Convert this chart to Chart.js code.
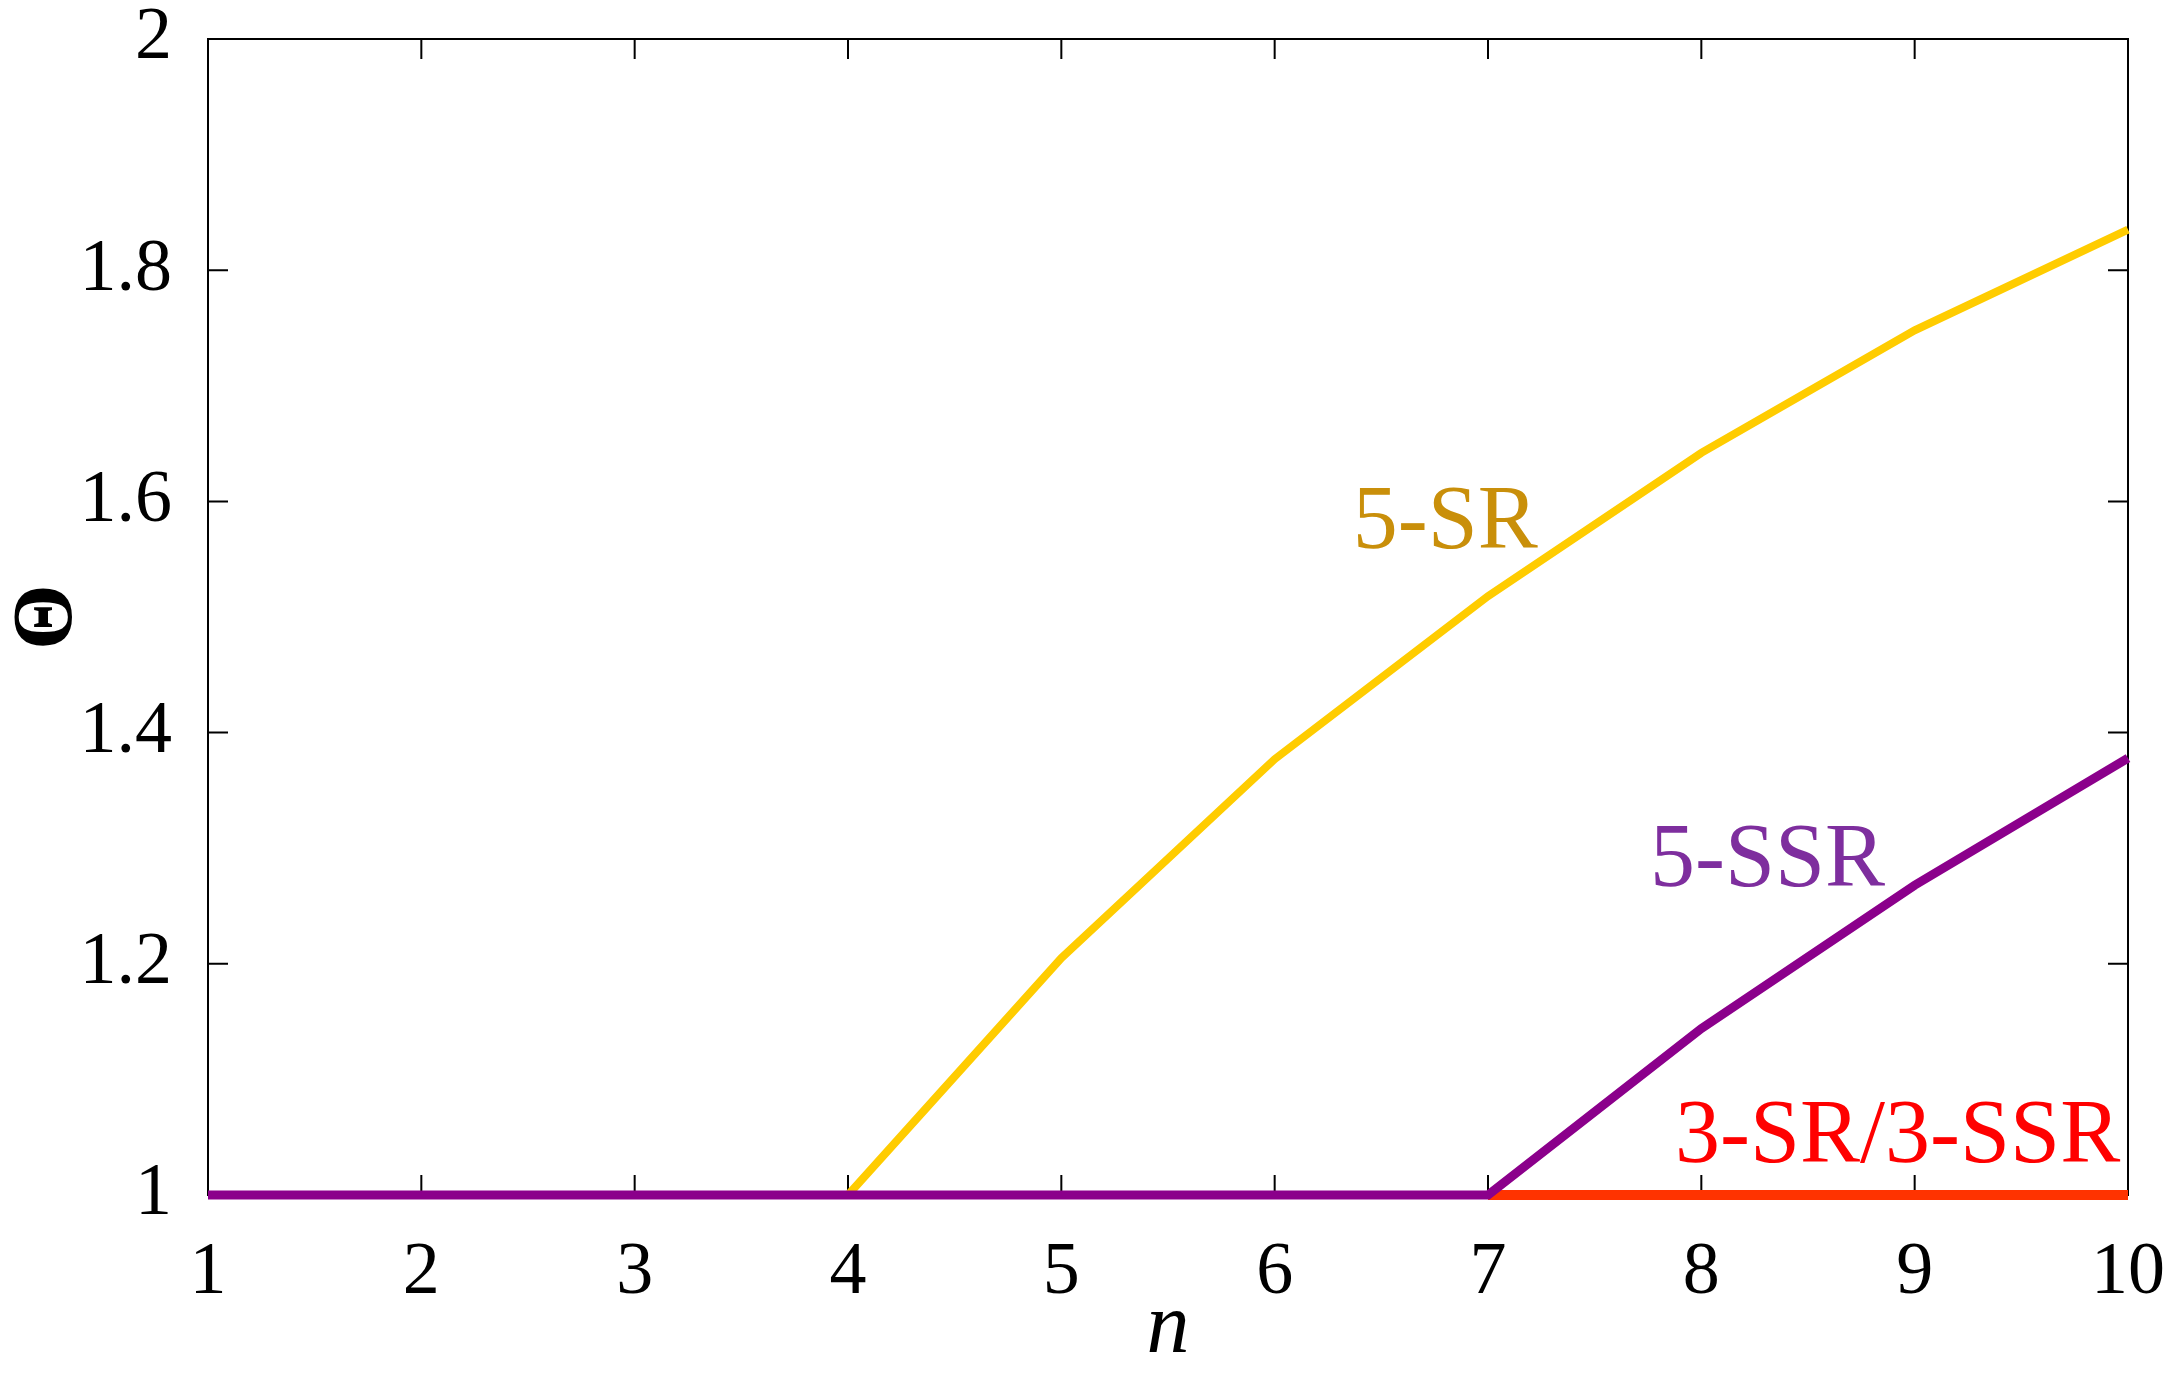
<!DOCTYPE html>
<html>
<head>
<meta charset="utf-8">
<script src="https://cdn.jsdelivr.net/npm/chart.js@4/dist/chart.umd.min.js"></script>
<style>
html, body { margin: 0; padding: 0; background: #fff; }
#wrap { width: 2176px; height: 1373px; }
</style>
</head>
<body>
<div id="wrap"><canvas id="myChart"></canvas></div>
<script>
// values
var nValues = [1, 2, 3, 4, 5, 6, 7, 8, 9, 10];
var sr5 = [null, null, null, 1, 1.205, 1.377, 1.518, 1.642, 1.748, 1.835];
var ssr5 = [1, 1, 1, 1, 1, 1, 1, 1.144, 1.268, 1.378];
var sr3 = [null, null, null, null, null, null, 1, 1, 1, 1];
var xTicks = [1, 2, 3, 4, 5, 6, 7, 8, 9, 10];
var yTicks = [1, 1.2, 1.4, 1.6, 1.8, 2];
var curveNames = ['5-SR', '5-SSR', '3-SR/3-SSR'];

function points(ys) {
    var out = [];
    for (var i = 0; i < nValues.length; i++) {
        if (ys[i] !== null) out.push({x: nValues[i], y: ys[i]});
    }
    return out;
}

var serif = '"Liberation Serif", "Times New Roman", serif';

// labels written next to the curves, placed in data units
var curveLabels = [
    {text: curveNames[0], x: 6.80, y: 1.580, color: '#C98F0A'},
    {text: curveNames[1], x: 8.31, y: 1.288, color: '#7E2E9E'},
    {text: curveNames[2], x: 8.92, y: 1.049, color: '#FF0000'}
];

// box round the plot with inward ticks on all four sides
var frameTicks = {
    id: 'frameTicks',
    beforeDatasetsDraw: function(chart) {
        var ctx = chart.ctx, a = chart.chartArea;
        var xs = chart.scales.x, ys = chart.scales.y;
        var len = 20;
        ctx.save();
        ctx.strokeStyle = '#000';
        ctx.lineWidth = 2;
        ctx.strokeRect(a.left, a.top, a.right - a.left, a.bottom - a.top);
        ctx.beginPath();
        xTicks.forEach(function(v) {
            var px = xs.getPixelForValue(v);
            ctx.moveTo(px, a.bottom); ctx.lineTo(px, a.bottom - len);
            ctx.moveTo(px, a.top); ctx.lineTo(px, a.top + len);
        });
        yTicks.forEach(function(v) {
            var py = ys.getPixelForValue(v);
            ctx.moveTo(a.left, py); ctx.lineTo(a.left + len, py);
            ctx.moveTo(a.right, py); ctx.lineTo(a.right - len, py);
        });
        ctx.stroke();
        ctx.restore();
    },
    afterDatasetsDraw: function(chart) {
        var ctx = chart.ctx;
        var xs = chart.scales.x, ys = chart.scales.y;
        ctx.save();
        ctx.font = '90px ' + serif;
        ctx.textAlign = 'center';
        ctx.textBaseline = 'middle';
        curveLabels.forEach(function(l) {
            ctx.fillStyle = l.color;
            ctx.fillText(l.text, xs.getPixelForValue(l.x), ys.getPixelForValue(l.y));
        });
        ctx.restore();
    }
};

function noOverflow(s) {
    s.paddingTop = 0;
    s.paddingBottom = 0;
    s.paddingLeft = 0;
    s.paddingRight = 0;
}

var ctx = document.getElementById('myChart').getContext('2d');
var myChart = new Chart(ctx, {
    type: 'line',
    data: {
        datasets: [{
            label: curveNames[1],
            data: points(ssr5),
            borderColor: '#8B008B',
            borderWidth: 9,
            order: 1
        }, {
            label: curveNames[2],
            data: points(sr3),
            borderColor: '#FF3300',
            borderWidth: 10,
            order: 2
        }, {
            label: curveNames[0],
            data: points(sr5),
            borderColor: '#FFCC00',
            borderWidth: 8,
            order: 3
        }]
    },
    options: {
        responsive: true,
        maintainAspectRatio: false,
        devicePixelRatio: 1,
        animation: false,
        events: [],
        layout: { padding: { top: 39, right: 48, left: 0, bottom: 0 } },
        elements: {
            point: { radius: 0 },
            line: { tension: 0, fill: false, borderCapStyle: 'butt' }
        },
        datasets: { line: { clip: false } },
        plugins: { legend: { display: false }, tooltip: { enabled: false } },
        scales: {
            x: {
                type: 'linear',
                min: 1,
                max: 10,
                afterFit: function(s) { s.height = 178; noOverflow(s); },
                afterBuildTicks: function(s) { s.ticks = xTicks.map(function(v) { return {value: v}; }); },
                grid: { display: false },
                border: { display: false },
                ticks: {
                    autoSkip: false,
                    maxRotation: 0,
                    padding: 34,
                    color: '#000',
                    font: { family: serif, size: 74, lineHeight: 1 }
                },
                title: {
                    display: true,
                    text: 'n',
                    color: '#000',
                    padding: { top: 0, bottom: 1 },
                    font: { family: serif, size: 86, style: 'italic', lineHeight: 1 }
                }
            },
            y: {
                min: 1,
                max: 2,
                afterFit: function(s) { s.width = 208; noOverflow(s); },
                afterBuildTicks: function(s) { s.ticks = yTicks.map(function(v) { return {value: v}; }); },
                grid: { display: false },
                border: { display: false },
                ticks: {
                    padding: 28,
                    color: '#000',
                    font: { family: serif, size: 74, lineHeight: 1 },
                    callback: function(v) { return String(Number(v.toFixed(1))); }
                },
                title: {
                    display: true,
                    text: 'Θ',
                    color: '#000',
                    padding: { top: 7, bottom: 0 },
                    font: { family: serif, size: 84, weight: 'bold', lineHeight: 1 }
                }
            }
        }
    },
    plugins: [frameTicks]
});
</script>
</body>
</html>
